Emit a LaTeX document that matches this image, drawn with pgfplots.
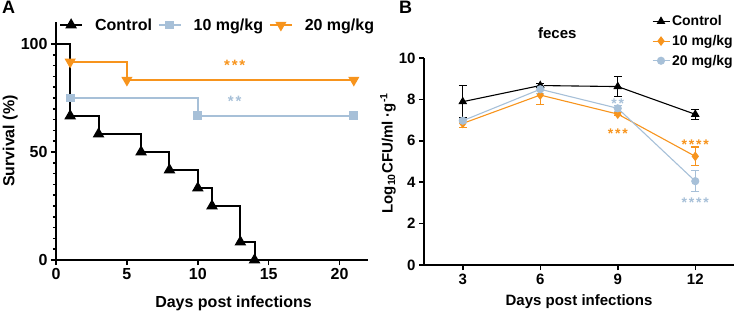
\documentclass[border=0pt]{standalone}
\usepackage{fontspec}
\setmainfont{Liberation Sans}
\usepackage{pgfplots}
\pgfplotsset{compat=1.18}
\definecolor{cOr}{HTML}{F7941D}
\definecolor{cBl}{HTML}{A7C0D8}
\newcommand{\fs}[1]{\bfseries\fontsize{#1}{#1}\selectfont}
\newcommand{\st}{*\kern1.8pt}
\pgfplotsset{prism/.style={
  scale only axis, axis x line*=bottom, axis y line*=left,
  axis line style={line width=1.8pt,-},
  tick align=outside, major tick length=5pt, minor tick length=3pt,
  every tick/.style={black, line width=1.5pt},
  /pgf/number format/assume math mode=true,
  clip=false,
  legend cell align=left,
}}
\begin{document}
\begin{tikzpicture}
\useasboundingbox (0,0) rectangle (735pt,314pt);
\node[anchor=north west, inner sep=0pt, font=\fs{18}] at (2pt,313pt) {A};
\node[anchor=north west, inner sep=0pt, font=\fs{18}] at (399pt,313pt) {B};
% ---------------- Panel A
\begin{axis}[prism, at={(56pt,54pt)}, anchor=south west, width=312pt, height=237.6pt,
  xmin=0, xmax=22, ymin=0, ymax=110,
  xtick={0,5,10,15,20}, ytick={0,50,100}, minor y tick num=9,
  ticklabel style={font=\fs{16}},
  xlabel={Days post infections}, ylabel={Survival (\%)},
  label style={font=\fs{16}},
  xlabel style={at={(axis description cs:0.569,-0.181)}, anchor=center},
  ylabel style={at={(axis description cs:-0.147,0.5)}, anchor=center},
  legend columns=3,
  legend style={at={(axis description cs:0.518,0.989)}, anchor=center, draw=none, fill=none, font=\fs{16},
    /tikz/every even column/.append style={column sep=4pt},
    /tikz/every odd column/.append style={column sep=10pt}},
  legend image code/.code={\draw[mark repeat=2,mark phase=2,#1] plot coordinates {(0pt,0pt)(11pt,0pt)(22pt,0pt)};},
]
\addplot[black, line width=2pt, const plot, mark=triangle*, mark size=4.8pt, mark indices={2,3,4,5,6,7,8,9},
  mark options={solid}, legend image post style={mark indices={2}}] coordinates {
  (0,100) (1,66.7) (3,58.3) (6,50) (8,41.7) (10,33.3) (11,25) (13,8.3) (14,0)};
\addlegendentry{Control}
\addplot[cBl, line width=1.7pt, const plot, mark=square*, mark size=3.6pt] coordinates {
  (1,75) (10,66.7) (21,66.7)};
\addlegendentry{10 mg/kg}
\addplot[cOr, line width=1.7pt, const plot, mark=triangle*, mark options={rotate=180}, mark size=4.8pt] coordinates {
  (1,91.7) (5,83.3) (21,83.3)};
\addlegendentry{20 mg/kg}
\node[text=cOr, font=\fs{15}] at (axis cs:12.6,90) {\st\st*};
\node[text=cBl, font=\fs{15}] at (axis cs:12.6,73.5) {\st*};
\end{axis}
% ---------------- Panel B
\begin{axis}[prism, at={(424pt,49pt)}, anchor=south west, width=310pt, height=207pt,
  xmin=1.5, xmax=13.5, ymin=0, ymax=10,
  xtick={3,6,9,12}, ytick={0,2,4,6,8,10},
  ticklabel style={font=\fs{15}},
  xlabel={Days post infections}, ylabel={Log\textsubscript{10}CFU/ml ·g\textsuperscript{-1}},
  label style={font=\fs{15}},
  xlabel style={at={(axis description cs:0.5,-0.179)}, anchor=center},
  ylabel style={at={(axis description cs:-0.116,0.54)}, anchor=center},
  legend style={at={(axis description cs:0.725,1.225)}, anchor=north west, draw=none, fill=none, font=\fs{14},
    row sep=4pt},
  legend image code/.code={\draw[mark repeat=2,mark phase=2,#1] plot coordinates {(0pt,0pt)(8.5pt,0pt)(17pt,0pt)};},
]
\addplot[black, line width=1.1pt, mark=triangle*, mark size=4pt,
  error bars/.cd, y dir=both, y explicit, error bar style={line width=1.1pt}, error mark options={rotate=90, mark size=4pt, line width=1.1pt}]
  coordinates {(3,7.89) +- (0,0.76) (6,8.67) +- (0,0.1) (9,8.62) +- (0,0.5) (12,7.28) +- (0,0.25)};
\addlegendentry{Control}
\addplot[cOr, line width=1.1pt, mark=diamond*, mark size=4pt,
  error bars/.cd, y dir=both, y explicit, error bar style={line width=1.1pt}, error mark options={rotate=90, mark size=4pt, line width=1.1pt}]
  coordinates {(3,6.84) +- (0,0.2) (6,8.21) +- (0,0.45) (9,7.29) +- (0,0.08) (12,5.25) +- (0,0.45)};
\addlegendentry{10 mg/kg}
\addplot[cBl, line width=1.1pt, mark=*, mark size=3.5pt,
  error bars/.cd, y dir=both, y explicit, error bar style={line width=1.1pt}, error mark options={rotate=90, mark size=4pt, line width=1.1pt}]
  coordinates {(3,6.97) +- (0,0.1) (6,8.49) +- (0,0.2) (9,7.57) +- (0,0.15) (12,4.05) +- (0,0.5)};
\addlegendentry{20 mg/kg}
\node[font=\fs{15}] at (axis cs:6.66,11.2) {feces};
\node[text=cBl, font=\fs{14}] at (axis cs:9,7.8) {\st*};
\node[text=cOr, font=\fs{14}] at (axis cs:9,6.35) {\st\st*};
\node[text=cOr, font=\fs{14}] at (axis cs:12,5.8) {\st\st\st*};
\node[text=cBl, font=\fs{14}] at (axis cs:12,3.0) {\st\st\st*};
\end{axis}
\end{tikzpicture}
\end{document}
